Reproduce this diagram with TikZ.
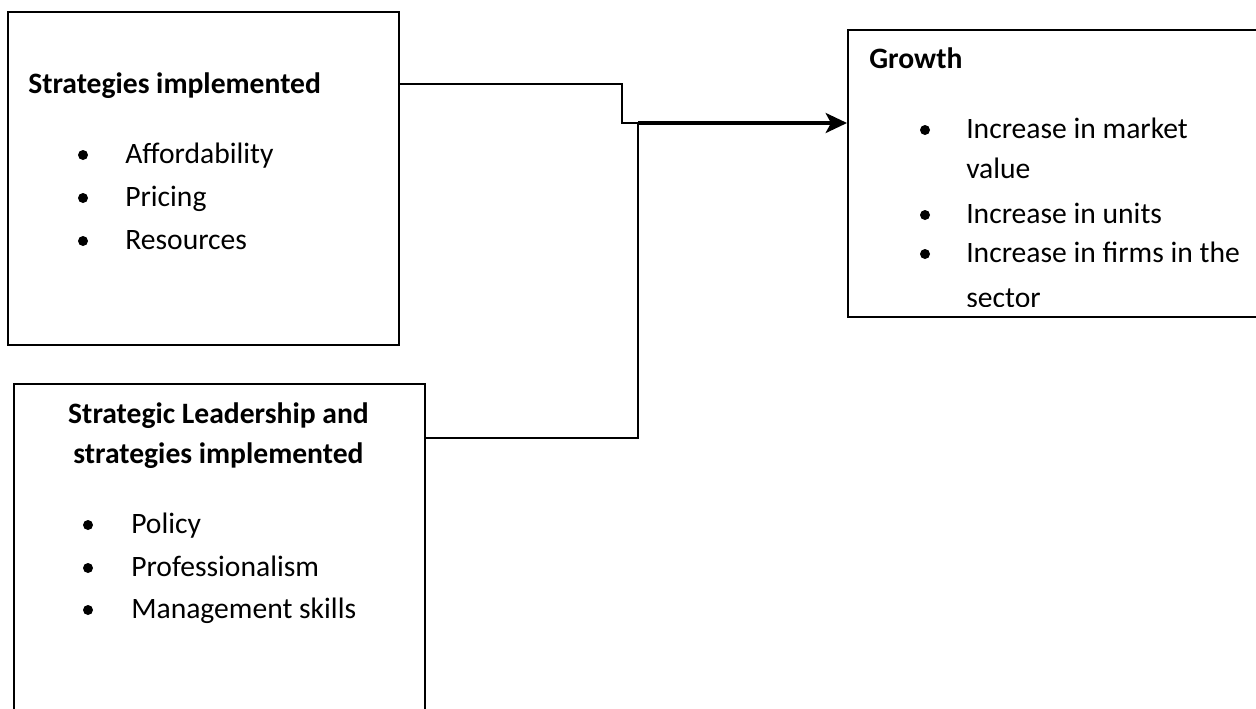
\documentclass[tikz,border=0pt]{standalone}
\usepackage{fontspec}
\setmainfont{Carlito}
\usetikzlibrary{arrows.meta,calc}
\begin{document}
\begin{tikzpicture}[x=0.75pt,y=-0.75pt,
  boxstyle/.style={draw,line width=1.5pt,anchor=north west,inner sep=0pt},
  conn/.style={line width=1.5pt},
  mainarrow/.style={line width=2.6pt,-{Stealth[length=16pt,width=15pt,inset=4pt]}},
  txt/.style={anchor=base west,inner sep=0pt,font=\fontsize{22.2}{26}\selectfont},
  ttl/.style={anchor=base west,inner sep=0pt,font=\fontsize{22.2}{26}\selectfont\bfseries},
  ctl/.style={anchor=base,inner sep=0pt,font=\fontsize{22.2}{26}\selectfont\bfseries},
  bul/.style={circle,fill=black,inner sep=0pt,minimum size=7.5pt}]
\useasboundingbox (0,0) rectangle (1256,708);
\clip (0,0) rectangle (1256,708);
\fill[white] (0,0) rectangle (1256,708);
% boxes
\node[boxstyle,minimum width={391*0.75pt},minimum height={333*0.75pt}] (b1) at (7,11) {};
\node[boxstyle,minimum width={411*0.75pt},minimum height={332*0.75pt}] (b2) at (13,383) {};
\node[boxstyle,minimum width={420*0.75pt},minimum height={287*0.75pt}] (b3) at (847,29) {};
% box 1 text
\node[ttl] (t1) at (28,93) {Strategies implemented};
\node[bul] (p11) at (83,155) {};
\node[txt] (i11) at (125,163) {Affordability};
\node[bul] (p12) at (83,198) {};
\node[txt] (i12) at (125,206) {Pricing};
\node[bul] (p13) at (83,241) {};
\node[txt] (i13) at (125,249) {Resources};
% box 2 text
\node[ctl] (t2a) at (218.5,423) {Strategic Leadership and};
\node[ctl] (t2b) at (218.5,463) {strategies implemented};
\node[bul] (p21) at (88,525) {};
\node[txt] (i21) at (131,533) {Policy};
\node[bul] (p22) at (88,568) {};
\node[txt] (i22) at (131,576) {Professionalism};
\node[bul] (p23) at (88,610) {};
\node[txt] (i23) at (131,618) {Management skills};
% box 3 text
\node[ttl] (t3) at (869,68) {Growth};
\node[bul] (p31) at (925,130) {};
\node[txt] (i31) at (966,138) {Increase in market};
\node[txt] (i31b) at (966,178) {value};
\node[bul] (p32) at (925,215) {};
\node[txt] (i32) at (966,223) {Increase in units};
\node[bul] (p33) at (925,254) {};
\node[txt] (i33) at (966,262) {Increase in firms in the};
\begin{scope}
\clip (847,29) rectangle (1256,306);
\node[txt] (i33b) at (966,307) {sector};
\end{scope}
% connectors
\coordinate (k1) at (622,84);
\coordinate (k2) at (638,123);
\coordinate (k3) at (638,438);
\draw[conn] (b1.east |- k1) -- (k1) |- (k2);
\draw[conn] (b2.east |- k3) -- (k3) -- (k2);
\draw[mainarrow] (k2) -- (b3.west |- k2);
\end{tikzpicture}
\end{document}
